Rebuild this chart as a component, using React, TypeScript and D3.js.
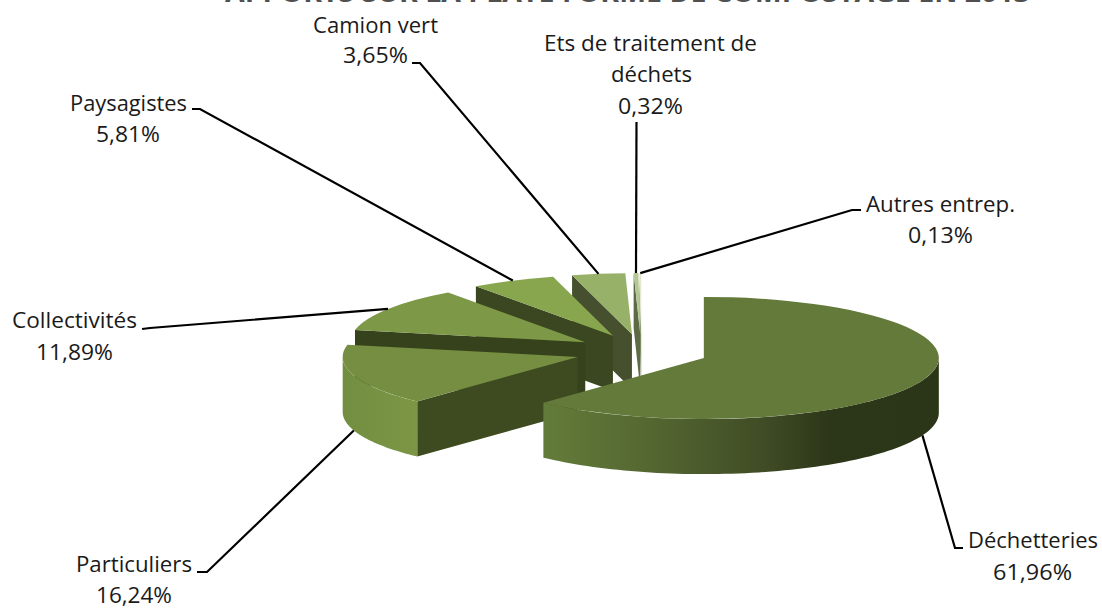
import React from "react";
import * as d3 from "d3";

const categories = ["Déchetteries", "Particuliers", "Collectivités", "Paysagistes", "Camion vert", "Ets de traitement de déchets", "Autres entrep."];
const shares = [61.96, 16.24, 11.89, 5.81, 3.65, 0.32, 0.13];
const percentLabels = ["61,96%", "16,24%", "11,89%", "5,81%", "3,65%", "0,32%", "0,13%"];
const titleText = "APPORTS SUR LA PLATE FORME DE COMPOSTAGE EN 2013";

const topColors = ["#647a3a", "#758e41", "#7d9847", "#87a64d", "#97b168", "#b4c794", "#e0e8d0"];
const wallColors = ["#3a4720", "#3e4a20", "#36421c", "#3b4720", "#47502e", "#5c6b45", "#8a9a70"];

// Text layout: [text, left, right, baseline]
const labelLayout: [string, number, number, number][][] = [
  [["Déchetteries", 968, 1098, 548], ["61,96%", 993, 1072, 580]],
  [["Particuliers", 76, 192, 572], ["16,24%", 96, 172, 603]],
  [["Collectivités", 12, 137, 328], ["11,89%", 36, 113, 360]],
  [["Paysagistes", 70, 187, 111], ["5,81%", 96, 160, 142]],
  [["Camion vert", 313, 438, 33], ["3,65%", 343, 408, 63]],
  [["Ets de traitement de", 544, 757, 51], ["déchets", 611, 692, 82], ["0,32%", 618, 683, 114]],
  [["Autres entrep.", 866, 1015, 212], ["0,13%", 908, 973, 243]],
];
// Leader ends away from the pie, from elbow to label
const leaderEnds: [number, number][][] = [
  [[955, 548], [963, 548]],
  [[207, 572], [197, 572]],
  [[150, 328], [142, 329]],
  [[200, 109], [192, 109]],
  [[420, 63], [412, 63]],
  [[636.5, 122]],
  [[852, 210], [861, 210]],
];
// Which side of the slice the leader attaches to: rim bottom (true) or top edge (false)
const leaderOnRimBottom = [true, true, false, false, false, false, false];

const CX = 641.5, CY = 351.6, RX = 235, TILT = 0.26, RY = RX * TILT, EXPLODE = 67, DEPTH = 55;

const pieGen = d3.pie<number>().sort(null).value((d) => d).startAngle(0).endAngle(2 * Math.PI);
const slices = pieGen(shares);
const arcGen = d3.arc<any>().innerRadius(0).outerRadius(RX);
const ringPoint = (c: [number, number], a: number): [number, number] => [c[0] + RX * Math.sin(a), c[1] - RY * Math.cos(a)];
const centers: [number, number][] = slices.map((s) => {
  const m = (s.startAngle + s.endAngle) / 2;
  return [CX + EXPLODE * Math.sin(m), CY - EXPLODE * TILT * Math.cos(m)];
});
const line = d3.line();

function rimPath(c: [number, number], a0: number, a1: number) {
  const from = Math.max(a0, Math.PI / 2);
  const to = Math.min(a1, 1.5 * Math.PI);
  if (to <= from) return null;
  const top = d3.range(0, 81).map((i) => ringPoint(c, from + ((to - from) * i) / 80));
  const bottom = top.slice().reverse().map(([x, y]) => [x, y + DEPTH] as [number, number]);
  return line([...top, ...bottom]) + "Z";
}
function wallPath(c: [number, number], a: number) {
  const p = ringPoint(c, a);
  return line([c, p, [p[0], p[1] + DEPTH], [c[0], c[1] + DEPTH]]) + "Z";
}
const font = "'Open Sans', 'DejaVu Sans', sans-serif";
const order = [6, 5, 4, 3, 2, 1, 0];

export default function App() {
  return (
    <svg width={1102} height={608} style={{ position: "absolute", left: 0, top: 0, display: "block", background: "#fff" }}>
      <defs>
        <linearGradient id="rim0" gradientUnits="userSpaceOnUse" x1={542} x2={938} y1={0} y2={0}>
          <stop offset="0" stopColor="#647c3a" />
          <stop offset="0.3" stopColor="#526530" />
          <stop offset="0.56" stopColor="#404c25" />
          <stop offset="0.73" stopColor="#2c3618" />
          <stop offset="1" stopColor="#2b3517" />
        </linearGradient>
        <linearGradient id="rim1" gradientUnits="userSpaceOnUse" x1={342} x2={418} y1={0} y2={0}>
          <stop offset="0" stopColor="#728e40" />
          <stop offset="1" stopColor="#7c9645" />
        </linearGradient>
      </defs>
      <text x={225} y={1.5} fontFamily={font} fontWeight={700} fontSize={26} fill="#505050" textLength={805} lengthAdjust="spacingAndGlyphs">{titleText}</text>

      {order.map((i) => {
        const s = slices[i];
        const c = centers[i];
        const rim = rimPath(c, s.startAngle, s.endAngle);
        return (
          <g key={categories[i]}>
            {i !== 0 && <path d={wallPath(c, s.startAngle)} fill={wallColors[i]} />}
            {rim && <path d={rim} fill={`url(#rim${i})`} />}
            <path d={arcGen(s) as string} transform={`translate(${c[0]},${c[1]}) scale(1,${TILT})`} fill={topColors[i]} />
          </g>
        );
      })}

      {slices.map((s, i) => {
        const m = (s.startAngle + s.endAngle) / 2;
        const p = ringPoint(centers[i], m);
        const start: [number, number] = [p[0], p[1] + (leaderOnRimBottom[i] ? DEPTH : 0)];
        return <path key={i} d={line([start, ...leaderEnds[i]]) as string} fill="none" stroke="#000" strokeWidth={2.2} />;
      })}

      {labelLayout.flat().map(([t, x0, x1, y]) => (
        <text key={t} x={x0} y={y} fontFamily={font} fontSize={22.5} fill="#1a1a1a" textLength={x1 - x0} lengthAdjust="spacingAndGlyphs">{t}</text>
      ))}
    </svg>
  );
}
